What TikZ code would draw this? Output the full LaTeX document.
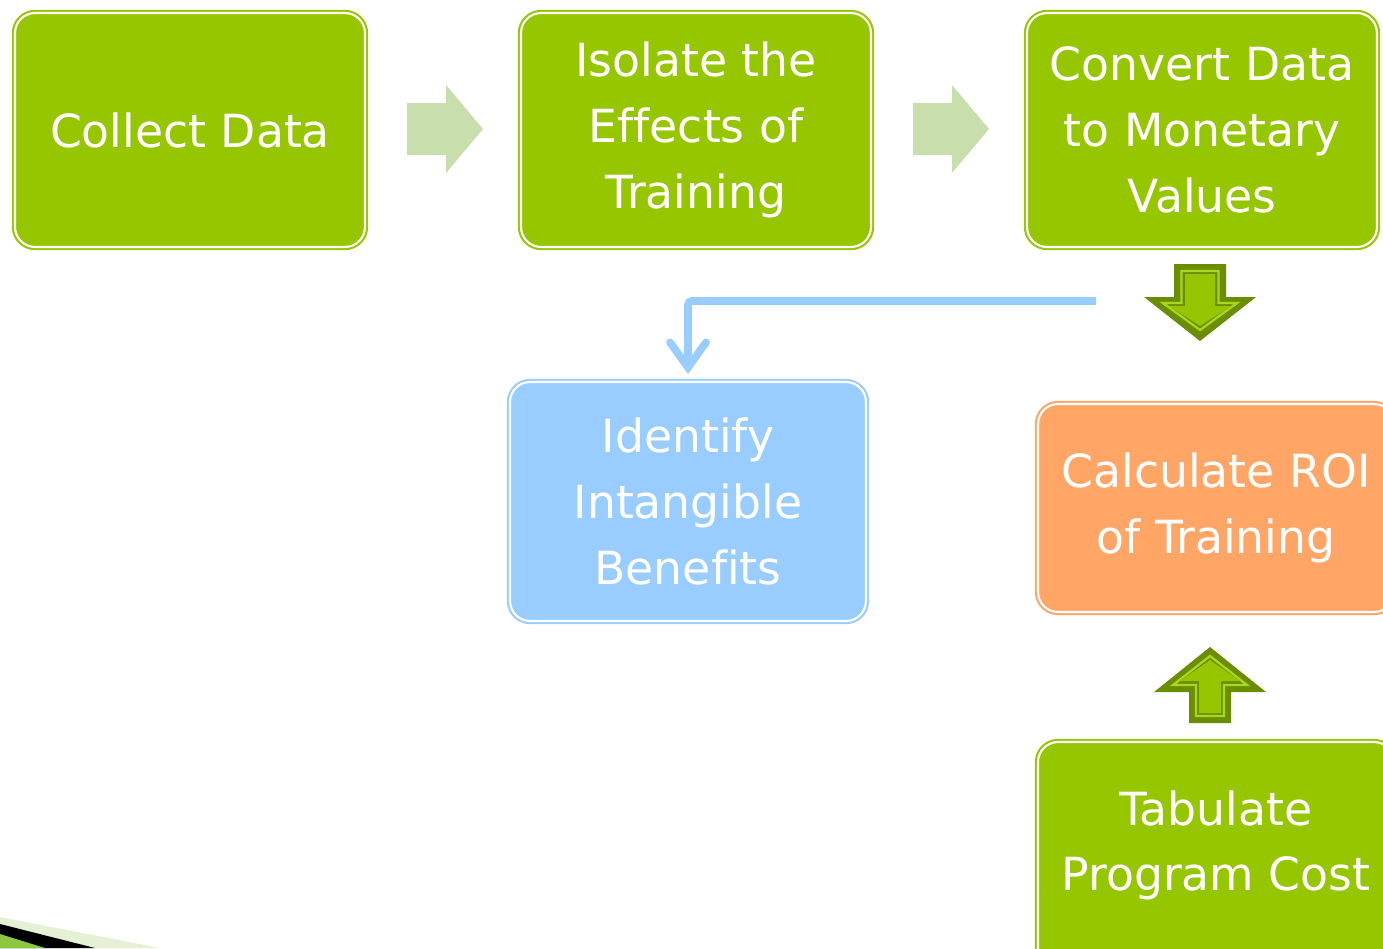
\documentclass[tikz,border=0pt]{standalone}
\usepackage{fontspec}
\setmainfont{DejaVu Sans}[Ligatures=NoCommon]
\usetikzlibrary{arrows.meta}

\definecolor{boxgreen}{HTML}{95C600}
\definecolor{boxblue}{HTML}{99CCFF}
\definecolor{boxorange}{HTML}{FFA566}
\definecolor{paleflow}{HTML}{C9DEAD}
\definecolor{arrowdark}{HTML}{6A8E00}
\definecolor{arrowlight}{HTML}{AAD61E}
\definecolor{swooshpale}{HTML}{E4F1D5}
\definecolor{swooshgreen}{HTML}{8DC63F}

\begin{document}
\begin{tikzpicture}[
        x=0.02cm, y=-0.02cm,
        stepbox/.style={rectangle, rounded corners=0.4cm, draw=boxgreen, fill=boxgreen,
            line width=1.2pt, double=white, double distance=1.2pt,
            minimum width=7cm, minimum height=4.68cm, text=white, align=center,
            font=\fontsize{26}{37.4}\selectfont},
        flowarrow/.style={fill=paleflow},
        blockdark/.style={fill=arrowdark},
        blockline/.style={draw=arrowlight, line width=1.3pt, line join=miter},
        blockfill/.style={fill=boxgreen},
        link/.style={draw=boxblue, line width=4.4pt, line cap=butt, rounded corners=0.08cm,
            -{Straight Barb[length=0.5cm, width=0.72cm, line cap=round]}}
    ]
    \clip (0,0) rectangle (1383,948);

    % Kroky procesu
    \node[stepbox] (collect) at (190,130) {Collect Data};
    \node[stepbox] (isolate) at (696,130) {Isolate the\\Effects of\\Training};
    \node[stepbox] (convert) at (1202,130) {Convert Data\\to Monetary\\Values};
    \node[stepbox, draw=boxblue, fill=boxblue, minimum width=7.12cm, minimum height=4.78cm]
        (intang) at (688,501.5) {Identify\\Intangible\\Benefits};
    \node[stepbox, draw=boxorange, fill=boxorange, minimum width=7.12cm, minimum height=4.16cm]
        (roi) at (1216,508) {Calculate ROI\\of Training};
    \node[stepbox, minimum width=7.12cm, minimum height=5cm, text depth=1.05cm]
        (cost) at (1216,867) {Tabulate\\Program Cost};

    % Svetle sipky mezi kroky
    \fill[flowarrow] (407,103) -- (446,103) -- (446,85) -- (483,129)
        -- (446,173) -- (446,155) -- (407,155) -- cycle;
    \fill[flowarrow] (913,103) -- (952,103) -- (952,85) -- (989,129)
        -- (952,173) -- (952,155) -- (913,155) -- cycle;

    % Sipka dolu k ROI
    \fill[blockdark] (1174,264) -- (1226,264) -- (1226,297) -- (1256,297)
        -- (1200,341) -- (1144,297) -- (1174,297) -- cycle;
    \draw[blockline] (1181.5,271) -- (1218.5,271) -- (1218.5,303) -- (1237,303)
        -- (1200,330) -- (1163,303) -- (1181.5,303) -- cycle;
    \fill[blockfill] (1185,274) -- (1215,274) -- (1215,306) -- (1231,306)
        -- (1200,326) -- (1169,306) -- (1185,306) -- cycle;

    % Sipka nahoru od nakladu
    \fill[blockdark] (1189,723) -- (1231,723) -- (1231,692) -- (1266,692)
        -- (1210,647) -- (1154,692) -- (1189,692) -- cycle;
    \draw[blockline] (1196,716) -- (1224,716) -- (1224,685) -- (1247,685)
        -- (1210,656) -- (1173,685) -- (1196,685) -- cycle;
    \fill[blockfill] (1199,713) -- (1221,713) -- (1221,681) -- (1240,681)
        -- (1210,660) -- (1180,681) -- (1199,681) -- cycle;

    % Modra spojnice
    \coordinate (linkstart) at (1096,301);
    \draw[link, shorten >=0.14cm] (linkstart) -| (intang.north);

    % Ozdoba v rohu
    \fill[swooshpale] (0,917) -- (160,948) -- (0,948) -- cycle;
    \fill[black] (0,924) -- (95,948) -- (0,948) -- cycle;
    \fill[swooshgreen] (0,934) -- (45,948) -- (0,948) -- cycle;

\end{tikzpicture}
\end{document}
